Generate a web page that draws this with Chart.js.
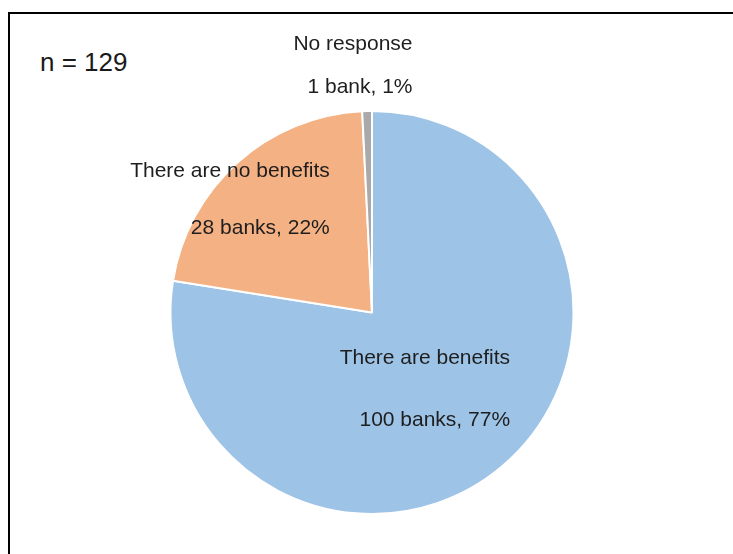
<!DOCTYPE html>
<html>
<head>
<meta charset="utf-8">
<script src="https://cdn.jsdelivr.net/npm/chart.js@4.4.1/dist/chart.umd.min.js"></script>
<style>
    html, body { margin: 0; padding: 0; background: #fff; overflow: hidden; }
    body { width: 733px; height: 554px; position: relative; font-family: "Liberation Sans", Arial, sans-serif; }
    #frame { position: absolute; left: 8px; top: 12px; width: 780px; height: 620px; border: 2px solid #000; box-sizing: border-box; }
    #nlabel { position: absolute; left: 40px; top: 47px; font-size: 26px; color: #1a1a1a; line-height: 30px; }
    #pieChart { position: absolute; left: 0; top: 0; }
</style>
</head>
<body>
<div id="frame"></div>
<div id="nlabel">n = 129</div>
<canvas id="pieChart" width="733" height="554"></canvas>

<script>
// Survey answers, clockwise from 12 o'clock
const answers = ['There are benefits', 'There are no benefits', 'No response'];
const bankCounts = [100, 28, 1];
const sharePercents = [77, 22, 1];
const sliceColors = ['#9DC3E6', '#F4B183', '#A9A9A9'];

// Where each label block sits: fraction of the radius along the slice's middle,
// a small pixel nudge, and the gap between the two lines
const labelLayout = [
    { factor: 0.45, dx: -6, dy: 8, gap: 62 },
    { factor: 0.90, dx: -21, dy: 22, gap: 57 },
    { factor: 1.227, dx: -13, dy: 0, gap: 43 }
];

function countText(i) {
    const n = bankCounts[i];
    return n + (n === 1 ? ' bank, ' : ' banks, ') + sharePercents[i] + '%';
}

// Two-line, right-aligned labels like the spreadsheet's data labels
const sliceLabels = {
    id: 'sliceLabels',
    afterDatasetsDraw(chart) {
        const ctx = chart.ctx;
        const arcs = chart.getDatasetMeta(0).data;
        ctx.save();
        ctx.font = '21px "Liberation Sans", Arial, sans-serif';
        ctx.fillStyle = '#1e1e1e';
        ctx.textBaseline = 'middle';
        ctx.textAlign = 'right';
        arcs.forEach((arc, i) => {
            const p = arc.getProps(['x', 'y', 'startAngle', 'endAngle', 'outerRadius'], true);
            const mid = (p.startAngle + p.endAngle) / 2;
            const lay = labelLayout[i];
            const cx = p.x + Math.cos(mid) * p.outerRadius * lay.factor + lay.dx;
            const cy = p.y + Math.sin(mid) * p.outerRadius * lay.factor + lay.dy;
            const lines = [answers[i], countText(i)];
            const w = Math.max(...lines.map(t => ctx.measureText(t).width));
            const right = cx + w / 2;
            ctx.fillText(lines[0], right, cy - lay.gap / 2);
            ctx.fillText(lines[1], right, cy + lay.gap / 2);
        });
        ctx.restore();
    }
};

const ctx = document.getElementById('pieChart').getContext('2d');
new Chart(ctx, {
    type: 'pie',
    data: {
        labels: answers,
        datasets: [{
            data: bankCounts,
            backgroundColor: sliceColors,
            borderColor: '#ffffff',
            borderWidth: 2
        }]
    },
    options: {
        responsive: false,
        animation: false,
        layout: { padding: { top: 110, bottom: 39, left: 100, right: 89 } },
        plugins: {
            legend: { display: false },
            tooltip: { enabled: false }
        }
    },
    plugins: [sliceLabels]
});
</script>
</body>
</html>
